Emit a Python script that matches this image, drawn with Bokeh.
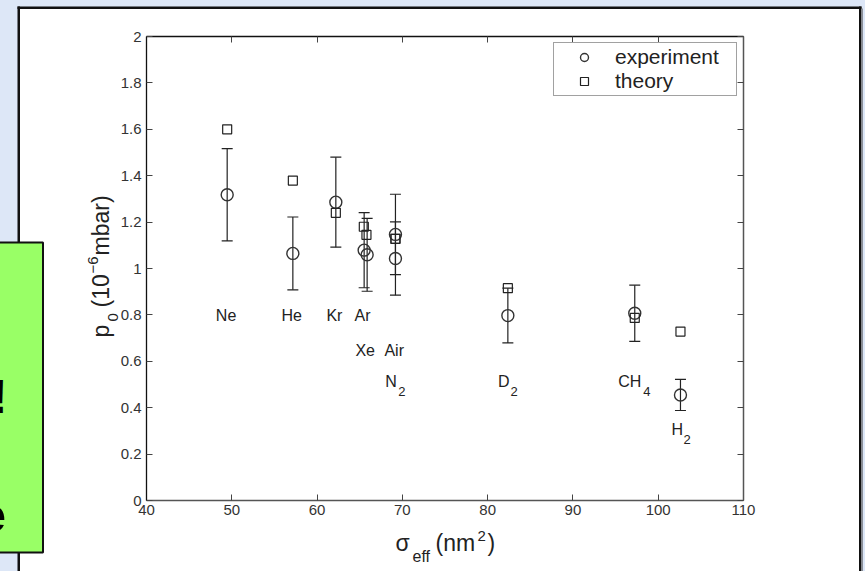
import math
from bokeh.plotting import figure
from bokeh.models import (ColumnDataSource, Whisker, TeeHead, LinearAxis, Range1d,
                          FixedTicker, CustomJSTickFormatter, Legend, LegendItem)
from bokeh.embed import file_html
from bokeh.resources import INLINE
from bokeh.core.properties import value

# ---------------- data ----------------
gases = ["Ne", "He", "Kr", "Ar", "Xe", "Air", "N2", "D2", "CH4", "H2"]
sigma_exp = [49.46, 57.16, 62.20, 65.52, 65.87, 69.19, 69.19, 82.37, 97.25, 102.61]
p0_exp = [1.318, 1.065, 1.286, 1.079, 1.059, 1.147, 1.043, 0.797, 0.807, 0.455]
p0_err = [0.199, 0.157, 0.194, 0.162, 0.157, 0.173, 0.158, 0.118, 0.121, 0.067]
sigma_theory = [49.46, 57.16, 62.20, 65.48, 65.79, 69.19, 69.19, 82.37, 97.25, 102.61]
p0_theory = [1.600, 1.379, 1.240, 1.180, 1.145, 1.128, 1.128, 0.915, 0.787, 0.728]

label_main = ["Ne", "He", "Kr", "Ar", "Xe", "Air", "N", "D", "CH", "H"]
label_sub = ["", "", "", "", "", "", "2", "2", "4", "2"]
label_x = [48.13, 55.83, 61.10, 64.40, 64.50, 67.90, 68.00, 81.20, 95.30, 101.55]
label_y = [0.773, 0.773, 0.773, 0.773, 0.625, 0.625, 0.489, 0.489, 0.489, 0.284]
sub_dx = [0, 0, 0, 0, 0, 0, 13, 12.5, 25, 12]

x_ticks = [40, 50, 60, 70, 80, 90, 100, 110]
y_ticks = [0, 0.2, 0.4, 0.6, 0.8, 1.0, 1.2, 1.4, 1.6, 1.8, 2.0]

FONT = "Liberation Sans"
INK = "#222222"
BASE_FIX = 0.33   # rendered baseline sits ~0.33em lower than requested

# ---------------- figure ----------------
W, H = 865, 571
FL, FR, FT, FB = 146, 743, 36, 500          # frame edges on the page
X0, X1, Y0, Y1 = 40, 110, 0, 2

p = figure(width=W, height=H, output_backend="svg", toolbar_location=None,
           x_range=Range1d(X0, X1), y_range=Range1d(Y0, Y1),
           min_border_left=FL, min_border_right=W - FR,
           min_border_top=FT, min_border_bottom=H - FB,
           x_axis_location=None, y_axis_location=None)
p.border_fill_color = "white"
p.background_fill_color = "white"
p.outline_line_color = None
p.xgrid.visible = False
p.ygrid.visible = False

yfmt = CustomJSTickFormatter(code="return String(Math.round(tick*10)/10);")

def make_axis(cls_kwargs, ticks, labels, line_color, line_width):
    ax = LinearAxis(ticker=FixedTicker(ticks=ticks), **cls_kwargs)
    ax.major_tick_in = 6
    ax.major_tick_out = 0
    ax.minor_tick_line_color = None
    ax.major_tick_line_color = "#444444"
    ax.axis_line_color = line_color
    ax.axis_line_width = line_width
    ax.major_label_text_font = FONT
    ax.major_label_text_font_size = "15px" if labels else "0px"
    ax.major_label_text_color = "#333333"
    return ax

ax_b = make_axis({}, x_ticks, True, "#555555", 1.5)
ax_b.major_label_standoff = 4
ax_l = make_axis({"formatter": yfmt}, y_ticks, True, "#111111", 1.3)
ax_l.major_label_standoff = 5
ax_t = make_axis({}, x_ticks, False, "#111111", 1.3)
ax_r = make_axis({}, y_ticks, False, "#555555", 1.5)
p.add_layout(ax_b, "below")
p.add_layout(ax_l, "left")
p.add_layout(ax_t, "above")
p.add_layout(ax_r, "right")

# page pixel -> data helpers (for decorations outside the frame)
def X(px):
    return X0 + (px - FL) * (X1 - X0) / (FR - FL)

def Y(py):
    return Y0 + (FB - py) * (Y1 - Y0) / (FB - FT)

def box(x0, x1, y0, y1, color, line_color=None, line_width=1):
    p.quad(left=[X(x0)], right=[X(x1)], top=[Y(y0)], bottom=[Y(y1)],
           fill_color=color, fill_alpha=1, line_color=line_color,
           line_width=line_width, level="overlay")

def txt(x, y, t, size, angle=0.0, align="left", style="normal", color=INK):
    s = float(size.replace("px", "")) * BASE_FIX
    if angle:
        x -= s
    else:
        y -= s
    p.text(x=[X(x)], y=[Y(y)], text=[t], angle=angle, text_font=value(FONT),
           text_font_size=size, text_font_style=style, text_color=color,
           text_align=align, text_baseline="alphabetic", level="overlay")

# ---------------- page decorations ----------------
BLUE = "#dde7f7"
box(-2, 17.5, -2, H + 2, BLUE)
box(-2, W + 2, -2, 6.5, BLUE)
box(861.5, W + 2, -2, H + 2, BLUE)
box(17, 19.5, 6, H + 2, "#111111")
box(17, 861, 6, 8.5, "#111111")
box(858.5, 861, 6, H + 2, "#111111")
box(861, 862.5, 8, H + 2, "#8a8f99")
box(-4, 42.5, 242, 552, "#99ff66", "#111111", 2)
# fragments of the slide text hidden behind the chart
txt(7, 412, "!", "48px", align="right", style="bold", color="#000000")
txt(5.5, 531, "e", "49px", align="right", style="bold", color="#000000")

# ---------------- data marks ----------------
src_e = ColumnDataSource(dict(x=sigma_exp, y=p0_exp,
                              upper=[a + b for a, b in zip(p0_exp, p0_err)],
                              lower=[a - b for a, b in zip(p0_exp, p0_err)]))
src_t = ColumnDataSource(dict(x=sigma_theory, y=p0_theory))

wh = Whisker(source=src_e, base="x", upper="upper", lower="lower", dimension="height",
             line_color=INK, line_width=1.2,
             upper_head=TeeHead(size=11, line_color=INK, line_width=1.2),
             lower_head=TeeHead(size=11, line_color=INK, line_width=1.2))
p.add_layout(wh)

r_exp = p.scatter("x", "y", source=src_e, marker="circle", size=12,
                  fill_color=None, line_color="#333333", line_width=1.4)
r_th = p.scatter("x", "y", source=src_t, marker="square", size=9,
                 fill_color=None, line_color=INK, line_width=1.2)

src_lab = ColumnDataSource(dict(x=label_x, y=label_y, t=label_main, s=label_sub, dx=sub_dx))
p.text("x", "y", text="t", source=src_lab, text_font=value(FONT),
       text_font_size="16px", text_color=INK, text_align="left",
       text_baseline="alphabetic", y_offset=-5.3)
p.text("x", "y", text="s", source=src_lab, text_font=value(FONT),
       text_font_size="13px", text_color=INK, text_align="left",
       text_baseline="alphabetic", x_offset="dx", y_offset=4.5)

# ---------------- legend ----------------
legend = Legend(items=[LegendItem(label="experiment", renderers=[r_exp]),
                       LegendItem(label="theory", renderers=[r_th])],
                location=(407, 404))
legend.label_text_font = FONT
legend.label_text_font_size = "21px"
legend.label_text_color = INK
legend.padding = 2
legend.margin = 0
legend.spacing = 0
legend.glyph_width = 56
legend.glyph_height = 20
legend.label_height = 20
legend.label_standoff = 3
legend.label_width = 119
legend.border_line_color = "#444444"
legend.border_line_width = 1
legend.background_fill_color = "white"
legend.background_fill_alpha = 1
p.add_layout(legend, "center")

# ---------------- axis labels (composed, with sub/superscripts) ----------------
txt(395, 550, "σ", "23px")
txt(412, 561, "eff", "16px")
txt(435, 550, "(nm", "23px")
txt(477, 540, "2", "15px")
txt(487, 550, ")", "23px")

A = math.pi / 2
txt(108, 337, "p", "23px", A)
txt(117, 321, "0", "15px", A)
txt(108, 307, "(10", "23px", A)
txt(97, 273, "−6", "15px", A)
txt(108, 255, "mbar)", "23px", A)

open("out.html", "w").write(file_html(p, INLINE))
